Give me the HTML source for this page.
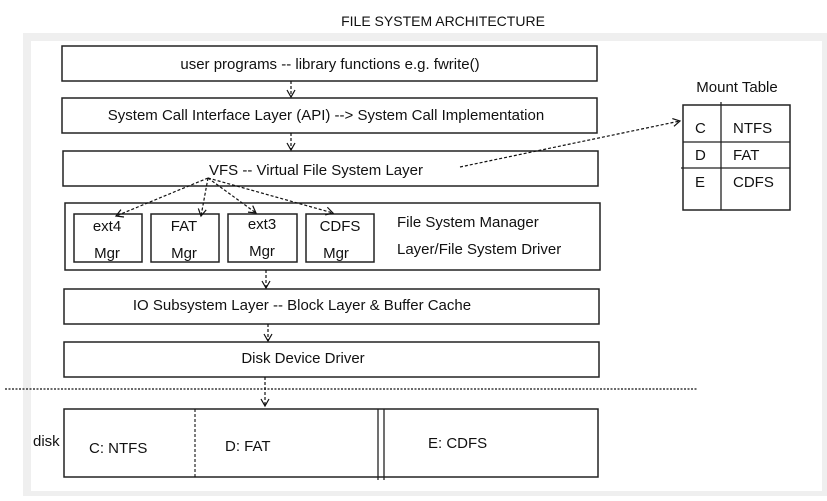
<!DOCTYPE html>
<html><head><meta charset="utf-8"><style>
body{margin:0;width:827px;height:496px;background:#fff;overflow:hidden;font-family:"Liberation Sans",sans-serif}
</style></head><body>
<svg width="827" height="496" xmlns="http://www.w3.org/2000/svg" font-family="Liberation Sans, sans-serif" font-size="15" fill="#111">
<defs><marker id="a" markerWidth="10" markerHeight="10" refX="8" refY="5" orient="auto" markerUnits="userSpaceOnUse"><path d="M1,1 L8,5 L1,9" fill="none" stroke="#111" stroke-width="1.2"/></marker></defs>
<rect x="23" y="33" width="804" height="463" fill="#efefef"/>
<rect x="31" y="41" width="791" height="450" fill="#fff"/>
<text x="443" y="26" text-anchor="middle" font-size="14">FILE SYSTEM ARCHITECTURE</text>
<g fill="#fff" stroke="#222" stroke-width="1.5">
<rect x="62" y="46" width="535" height="35"/>
<rect x="62" y="98" width="535" height="35"/>
<rect x="63" y="151" width="535" height="35"/>
<rect x="65" y="203" width="535" height="67"/>
<rect x="74" y="214" width="68" height="48"/>
<rect x="151" y="214" width="68" height="48"/>
<rect x="228" y="214" width="69" height="48"/>
<rect x="306" y="214" width="68" height="48"/>
<rect x="64" y="289" width="535" height="35"/>
<rect x="64" y="342" width="535" height="35"/>
<rect x="64" y="409" width="534" height="68"/>
<rect x="683" y="105" width="107" height="105"/>
</g>
<g stroke="#222" stroke-width="1.3">
<line x1="683" y1="142" x2="790" y2="142"/><line x1="681" y1="168" x2="790" y2="168"/>
<line x1="721" y1="102" x2="721" y2="210"/>
<line x1="378" y1="409" x2="378" y2="480"/><line x1="384" y1="409" x2="384" y2="480"/>
</g>
<g stroke="#111" stroke-width="1.2" stroke-dasharray="3,2" fill="none" marker-end="url(#a)">
<line x1="291" y1="81" x2="291" y2="97"/>
<line x1="291" y1="133" x2="291" y2="150"/>
<line x1="208" y1="178" x2="116" y2="216"/>
<line x1="208" y1="178" x2="201" y2="216"/>
<line x1="208" y1="178" x2="256" y2="213"/>
<line x1="208" y1="178" x2="333" y2="213"/>
<line x1="460" y1="167" x2="680" y2="121"/>
<line x1="266" y1="270" x2="266" y2="288"/>
<line x1="268" y1="324" x2="268" y2="341"/>
<line x1="265" y1="377" x2="265" y2="406"/>
</g>
<line x1="5" y1="389" x2="697" y2="389" stroke="#111" stroke-width="1.3" stroke-dasharray="2,1.5"/>
<line x1="195" y1="409" x2="195" y2="479" stroke="#111" stroke-width="1.1" stroke-dasharray="3,2"/>
<g>
<text x="330" y="69" text-anchor="middle">user programs -- library functions e.g. fwrite()</text>
<text x="326" y="120" text-anchor="middle">System Call Interface Layer (API) --&gt; System Call Implementation</text>
<text x="316" y="175" text-anchor="middle">VFS -- Virtual File System Layer</text>
<text x="107" y="231" text-anchor="middle">ext4</text><text x="107" y="258" text-anchor="middle">Mgr</text>
<text x="184" y="231" text-anchor="middle">FAT</text><text x="184" y="258" text-anchor="middle">Mgr</text>
<text x="262" y="229" text-anchor="middle">ext3</text><text x="262" y="256" text-anchor="middle">Mgr</text>
<text x="340" y="231" text-anchor="middle">CDFS</text><text x="336" y="258" text-anchor="middle">Mgr</text>
<text x="397" y="227">File System Manager</text>
<text x="397" y="254">Layer/File System Driver</text>
<text x="302" y="310" text-anchor="middle">IO Subsystem Layer -- Block Layer &amp; Buffer Cache</text>
<text x="303" y="363" text-anchor="middle">Disk Device Driver</text>
<text x="33" y="446">disk</text>
<text x="89" y="453">C: NTFS</text>
<text x="225" y="451">D: FAT</text>
<text x="428" y="448">E: CDFS</text>
<text x="737" y="92" text-anchor="middle">Mount Table</text>
<text x="695" y="133">C</text><text x="733" y="133">NTFS</text>
<text x="695" y="160">D</text><text x="733" y="160">FAT</text>
<text x="695" y="187">E</text><text x="733" y="187">CDFS</text>
</g>
</svg>
</body></html>
